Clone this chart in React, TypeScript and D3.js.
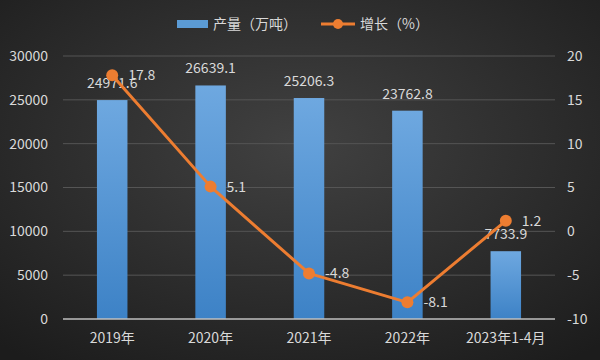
import { useEffect, useRef } from "react";
import * as d3 from "d3";

const categories = ["2019年", "2020年", "2021年", "2022年", "2023年1-4月"];
const output = [24971.6, 26639.1, 25206.3, 23762.8, 7733.9];
const growth = [17.8, 5.1, -4.8, -8.1, 1.2];
const leftTicks = [0, 5000, 10000, 15000, 20000, 25000, 30000];
const rightTicks = [-10, -5, 0, 5, 10, 15, 20];

function App() {
  const ref = useRef<SVGSVGElement>(null);

  const width = 600;
  const height = 360;
  const margin = { top: 56, right: 45, bottom: 41, left: 63 };
  const font = "'Noto Sans CJK SC', 'Open Sans', sans-serif";
  const textColor = "#d9d9d9";

  useEffect(() => {
    const svg = d3.select(ref.current);
    svg.selectAll("*").remove();

    const defs = svg.append("defs");
    const bg = defs.append("radialGradient").attr("id", "bg").attr("cx", "50%").attr("cy", "40%").attr("r", "75%");
    bg.append("stop").attr("offset", "0%").attr("stop-color", "#414141");
    bg.append("stop").attr("offset", "100%").attr("stop-color", "#1c1c1c");
    const barGrad = defs.append("linearGradient").attr("id", "bar").attr("x1", 0).attr("y1", 0).attr("x2", 0).attr("y2", 1);
    barGrad.append("stop").attr("offset", "0%").attr("stop-color", "#6ea8e0");
    barGrad.append("stop").attr("offset", "100%").attr("stop-color", "#3d82c6");

    svg.append("rect").attr("width", width).attr("height", height).attr("fill", "url(#bg)");

    const x = d3.scaleBand()
      .domain(categories)
      .range([margin.left, width - margin.right])
      .paddingInner(0.69)
      .paddingOuter(0.345);

    const y = d3.scaleLinear().domain([0, 30000]).range([height - margin.bottom, margin.top]);
    const y2 = d3.scaleLinear().domain([-10, 20]).range([height - margin.bottom, margin.top]);

    // gridlines
    svg.append("g")
      .selectAll("line")
      .data(leftTicks.slice(1))
      .enter()
      .append("line")
      .attr("x1", margin.left)
      .attr("x2", width - margin.right)
      .attr("y1", d => y(d))
      .attr("y2", d => y(d))
      .attr("stroke", "#555555")
      .attr("stroke-width", 1);

    // left axis labels
    svg.append("g")
      .selectAll("text")
      .data(leftTicks)
      .enter()
      .append("text")
      .attr("x", 48)
      .attr("y", d => y(d))
      .attr("dy", "0.35em")
      .attr("text-anchor", "end")
      .attr("fill", textColor)
      .style("font-family", font)
      .style("font-size", "14px")
      .text(d => d);

    // right axis labels
    svg.append("g")
      .selectAll("text")
      .data(rightTicks)
      .enter()
      .append("text")
      .attr("x", 567)
      .attr("y", d => y2(d))
      .attr("dy", "0.35em")
      .attr("fill", textColor)
      .style("font-family", font)
      .style("font-size", "14px")
      .text(d => d);

    // bars
    const bars = svg.append("g")
      .selectAll("g")
      .data(output)
      .enter()
      .append("g");

    bars.append("rect")
      .attr("x", (d, i) => x(categories[i])!)
      .attr("y", d => y(d))
      .attr("width", x.bandwidth())
      .attr("height", d => y(0) - y(d))
      .attr("fill", "url(#bar)");

    bars.append("text")
      .attr("x", (d, i) => x(categories[i])! + x.bandwidth() / 2)
      .attr("y", d => y(d) - 12)
      .attr("text-anchor", "middle")
      .attr("fill", textColor)
      .style("font-family", font)
      .style("font-size", "14px")
      .text(d => d.toFixed(1));

    // x axis line
    svg.append("line")
      .attr("x1", margin.left)
      .attr("x2", width - margin.right)
      .attr("y1", y(0))
      .attr("y2", y(0))
      .attr("stroke", "#bfbfbf")
      .attr("stroke-width", 1.5);

    // x labels
    svg.append("g")
      .selectAll("text")
      .data(categories)
      .enter()
      .append("text")
      .attr("x", d => x(d)! + x.bandwidth() / 2)
      .attr("y", y(0) + 24)
      .attr("text-anchor", "middle")
      .attr("fill", textColor)
      .style("font-family", font)
      .style("font-size", "14px")
      .text(d => d);

    // line
    const cx = (i: number) => x(categories[i])! + x.bandwidth() / 2;
    const line = d3.line<number>()
      .x((d, i) => cx(i))
      .y(d => y2(d));

    svg.append("path")
      .datum(growth)
      .attr("d", line)
      .attr("fill", "none")
      .attr("stroke", "#ed7d31")
      .attr("stroke-width", 3)
      .attr("stroke-linejoin", "round");

    svg.append("g")
      .selectAll("circle")
      .data(growth)
      .enter()
      .append("circle")
      .attr("cx", (d, i) => cx(i))
      .attr("cy", d => y2(d))
      .attr("r", 6)
      .attr("fill", "#ed7d31");

    svg.append("g")
      .selectAll("text")
      .data(growth)
      .enter()
      .append("text")
      .attr("x", (d, i) => cx(i) + 16)
      .attr("y", d => y2(d) + 5)
      .attr("fill", textColor)
      .style("font-family", font)
      .style("font-size", "14px")
      .text(d => d);

    // legend
    const legend = svg.append("g");
    legend.append("rect")
      .attr("x", 177).attr("y", 20).attr("width", 31).attr("height", 8)
      .attr("fill", "#5b9bd5");
    legend.append("text")
      .attr("x", 213).attr("y", 29)
      .attr("fill", textColor)
      .style("font-family", font)
      .style("font-size", "14px")
      .text("产量（万吨）");
    legend.append("line")
      .attr("x1", 321).attr("x2", 355).attr("y1", 24).attr("y2", 24)
      .attr("stroke", "#ed7d31").attr("stroke-width", 3);
    legend.append("circle")
      .attr("cx", 338).attr("cy", 24).attr("r", 5)
      .attr("fill", "#ed7d31");
    legend.append("text")
      .attr("x", 360).attr("y", 29)
      .attr("fill", textColor)
      .style("font-family", font)
      .style("font-size", "14px")
      .text("增长（%）");
  }, []);

  return (
    <div style={{ position: "absolute", left: 0, top: 0 }}>
      <svg ref={ref} width={width} height={height} style={{ display: "block" }}></svg>
    </div>
  );
}

export default App;
